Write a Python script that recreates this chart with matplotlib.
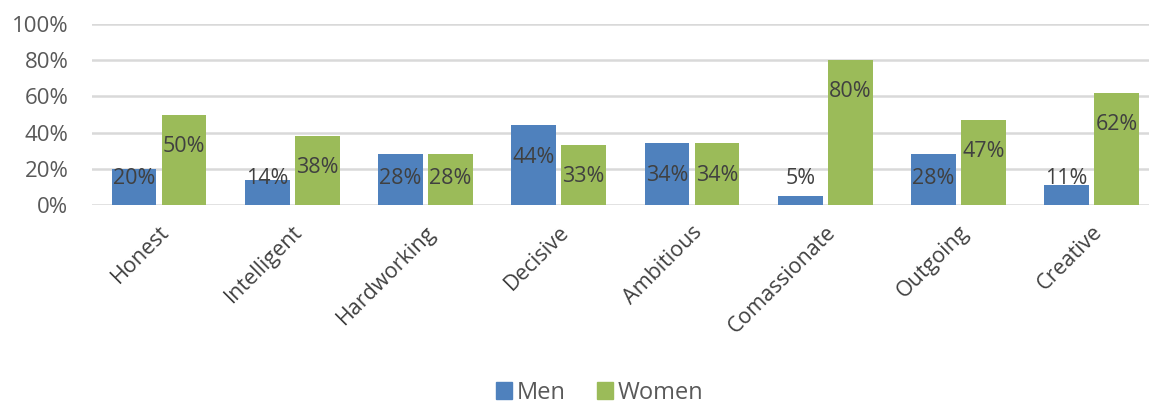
import matplotlib.pyplot as plt
import numpy as np
from matplotlib.patches import Patch
from matplotlib import patheffects as pe

categories = ["Honest", "Intelligent", "Hardworking", "Decisive", "Ambitious",
              "Comassionate", "Outgoing", "Creative"]
men = [20, 14, 28, 44, 34, 5, 28, 11]
women = [50, 38, 28, 33, 34, 80, 47, 62]

blue = "#4f81bd"
green = "#9bbb59"
txt = "#404040"

plt.rcParams['font.family'] = ['Open Sans', 'DejaVu Sans']

fig = plt.figure(figsize=(11.49, 4.03), dpi=100)
ax = fig.add_axes([92 / 1149, 198 / 403, 1066 / 1149, 181 / 403])

x = np.arange(len(categories))
w = 0.335
shadow = [pe.SimplePatchShadow(offset=(0, -2), alpha=0.5), pe.Normal()]
b1 = ax.bar(x - 0.185, men, w, color=blue, zorder=3)
b2 = ax.bar(x + 0.19, women, w, color=green, zorder=3)
for b in list(b1) + list(b2):
    b.set_path_effects(shadow)

# data labels: inside end, but kept above the bottom of the plot
for xs, vals in ((x - 0.185, men), (x + 0.19, women)):
    for xi, v in zip(xs, vals):
        ax.text(xi, max(v - 17.5, 14.5), f"{v}%", ha='center', va='center',
                fontsize=15.5, color=txt, zorder=4)

ax.set_xlim(-0.5, 7.5)
ax.set_ylim(0, 100)
ax.set_yticks(range(0, 101, 20))
ax.set_yticklabels([f"{t}%" for t in range(0, 101, 20)], fontsize=16, color="#595959")
ax.set_xticks(x)
ax.set_xticklabels(categories, rotation=45, ha='right', rotation_mode='anchor',
                   fontsize=15.5, color=txt)
ax.tick_params(axis='y', length=0, pad=17)
ax.tick_params(axis='x', length=0, pad=12)
ax.grid(axis='y', color="#d9d9d9", linewidth=1.8, zorder=0)
for s in ax.spines.values():
    s.set_visible(False)

handles = [Patch(color=blue, label="Men"), Patch(color=green, label="Women")]
fig.legend(handles=handles, loc='center', bbox_to_anchor=(0.522, 1 - 393 / 403),
           ncol=2, frameon=False, fontsize=17, handlelength=0.7, handleheight=0.7,
           handletextpad=0.2, columnspacing=1.3, labelcolor="#595959")

fig.savefig("out.png", dpi=100)
